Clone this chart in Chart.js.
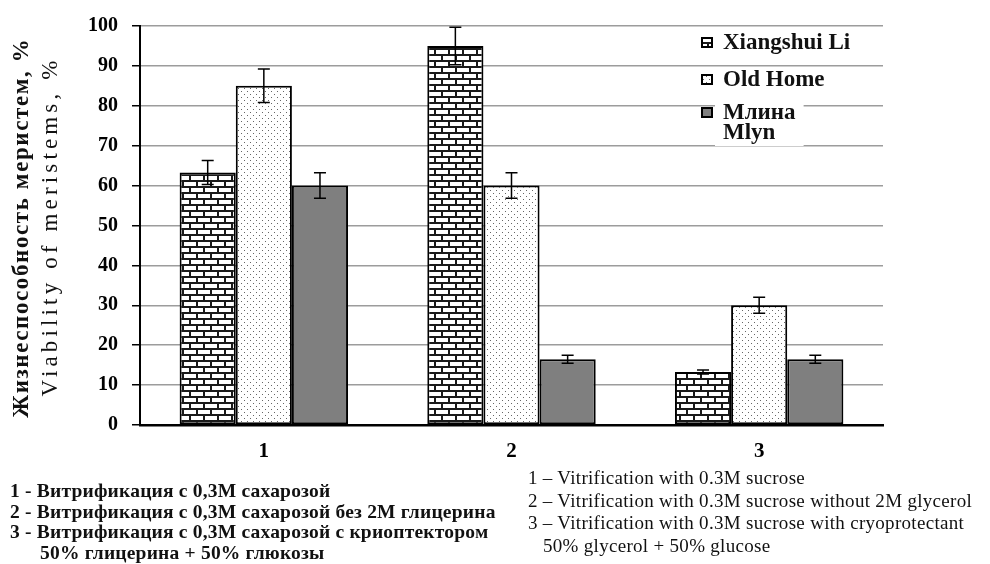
<!DOCTYPE html>
<html>
<head>
<meta charset="utf-8">
<script src="https://cdn.jsdelivr.net/npm/chart.js@4.4.1/dist/chart.umd.min.js"></script>
<style>
  html, body { margin: 0; padding: 0; background: #fff; }
  #wrap { position: relative; width: 990px; height: 564px; overflow: hidden; }
  canvas { position: absolute; left: 0; top: 0; }
  .notes { position: absolute; font-family: "Liberation Serif", "Times New Roman", serif; color: #111; white-space: nowrap; }
  .ru { left: 10px; top: 481px; font-size: 19.5px; font-weight: bold; line-height: 20.5px; letter-spacing: 0.2px; }
  .ru .indent { padding-left: 30px; }
  .en { left: 528px; top: 467px; font-size: 19px; line-height: 22.7px; letter-spacing: 0.3px; }
  .en .indent { padding-left: 15px; }
</style>
</head>
<body>
<div id="wrap">
  <canvas id="chart" width="990" height="564"></canvas>
  <div class="notes ru" id="notesRu"></div>
  <div class="notes en" id="notesEn"></div>
</div>
<script>
// categories = treatment number, see notes below the chart
const categories = ['1', '2', '3'];
const seriesLabels = ['Xiangshui Li', 'Old Home', 'Млина\nMlyn'];

// viability of meristems, %
const xiangshuiLi = [63.3, 95, 13.3];
const oldHome = [85, 60, 30];
const mlyn = [60, 16.5, 16.5];

// error bar half-widths
const errXiangshuiLi = [3, 4.7, 0.5];
const errOldHome = [4.2, 3.2, 2];
const errMlyn = [3.2, 1, 1];

const yTicks = [0, 10, 20, 30, 40, 50, 60, 70, 80, 90, 100];
const yTitleLines = ['Жизнеспособность меристем, %', 'Viability of meristems, %'];

const notesRu = [
    '1 - Витрификация с 0,3М сахарозой',
    '2 - Витрификация с 0,3М сахарозой без 2М глицерина',
    '3 - Витрификация с 0,3М сахарозой с криоптектором',
    '50% глицерина + 50% глюкозы',
];
const notesEn = [
    '1 – Vitrification with 0.3M sucrose',
    '2 – Vitrification with 0.3M sucrose without 2M glycerol',
    '3 – Vitrification with 0.3M sucrose with cryoprotectant',
    '50% glycerol + 50% glucose',
];

const SERIF = '"Liberation Serif", "Times New Roman", serif';

function fillNotes(id, lines) {
    const el = document.getElementById(id);
    lines.forEach((t, i) => {
        const d = document.createElement('div');
        d.textContent = t;
        // the last line continues item 3, so it is indented
        if (i === lines.length - 1) d.className = 'indent';
        el.appendChild(d);
    });
}
fillNotes('notesRu', notesRu);
fillNotes('notesEn', notesEn);

// --- fill patterns (brick / dots / plain gray) ---
function makePattern(w, h, draw) {
    const c = document.createElement('canvas');
    c.width = w;
    c.height = h;
    const g = c.getContext('2d');
    draw(g);
    return document.getElementById('chart').getContext('2d').createPattern(c, 'repeat');
}

const brick = makePattern(14, 12, (g) => {
    g.fillStyle = '#fff';
    g.fillRect(0, 0, 14, 12);
    g.fillStyle = '#1a1a1a';
    g.fillRect(0, 0, 14, 2);
    g.fillRect(0, 6, 14, 2);
    g.fillRect(0, 0, 2, 6);
    g.fillRect(7, 6, 2, 6);
});

const dots = makePattern(6, 6, (g) => {
    g.fillStyle = '#fff';
    g.fillRect(0, 0, 6, 6);
    g.fillStyle = '#666';
    g.fillRect(1, 1, 1, 1);
    g.fillRect(4, 4, 1, 1);
});

const gray = '#7f7f7f';

const errorBarPlugin = {
    id: 'errorBars',
    afterDatasetsDraw(chart) {
        const { ctx } = chart;
        const y = chart.scales.y;
        ctx.save();
        ctx.strokeStyle = '#000';
        ctx.lineWidth = 1.5;
        chart.data.datasets.forEach((ds, i) => {
            chart.getDatasetMeta(i).data.forEach((bar, j) => {
                const v = ds.data[j];
                const e = ds.errors[j];
                const top = y.getPixelForValue(v + e);
                const bot = y.getPixelForValue(v - e);
                ctx.beginPath();
                ctx.moveTo(bar.x, top);
                ctx.lineTo(bar.x, bot);
                ctx.moveTo(bar.x - 6, top);
                ctx.lineTo(bar.x + 6, top);
                ctx.moveTo(bar.x - 6, bot);
                ctx.lineTo(bar.x + 6, bot);
                ctx.stroke();
            });
        });
        ctx.restore();
    },
};

// legend sits inside the plot, top right; third entry is two lines on a white box
const legendRows = [43, 80, 113];
const legendPlugin = {
    id: 'insideLegend',
    afterDraw(chart) {
        const { ctx } = chart;
        ctx.save();
        ctx.font = `bold 23px ${SERIF}`;
        ctx.textBaseline = 'middle';
        chart.data.datasets.forEach((ds, i) => {
            const lines = ds.label.split('\n');
            const y = legendRows[i];
            const w = Math.max(...lines.map((l) => ctx.measureText(l).width));
            ctx.fillStyle = '#fff';
            ctx.fillRect(715, y - 12, w + 16, (lines.length - 1) * 20 + 25);

            ctx.fillStyle = ds.backgroundColor;
            ctx.fillRect(702, y - 5, 10, 9);
            ctx.strokeStyle = '#000';
            ctx.lineWidth = 2;
            ctx.strokeRect(702, y - 5, 10, 9);

            ctx.fillStyle = '#111';
            lines.forEach((l, k) => ctx.fillText(l, 723, y + k * 20));
        });
        ctx.restore();
    },
};

// rotated two-line y title, spread to the height it has in the original
const yTitlePlugin = {
    id: 'yTitle',
    afterDraw(chart) {
        const { ctx, chartArea } = chart;
        const midY = (chartArea.top + chartArea.bottom) / 2 + 3;
        const specs = [
            { font: `bold 23px ${SERIF}`, x: 22, len: 380 },
            { font: `23px ${SERIF}`, x: 51, len: 340 },
        ];
        ctx.save();
        yTitleLines.forEach((text, i) => {
            const s = specs[i];
            ctx.save();
            ctx.translate(s.x, midY);
            ctx.rotate(-Math.PI / 2);
            ctx.font = s.font;
            ctx.letterSpacing = '0px';
            const w = ctx.measureText(text).width;
            const sp = Math.max(0, (s.len - w) / text.length);
            ctx.letterSpacing = sp + 'px';
            ctx.fillStyle = '#111';
            ctx.textAlign = 'center';
            ctx.textBaseline = 'middle';
            ctx.fillText(text, sp / 2, 0);
            ctx.restore();
        });
        ctx.restore();
    },
};

new Chart(document.getElementById('chart'), {
    type: 'bar',
    data: {
        labels: categories,
        datasets: [
            { label: seriesLabels[0], data: xiangshuiLi, errors: errXiangshuiLi, backgroundColor: brick },
            { label: seriesLabels[1], data: oldHome, errors: errOldHome, backgroundColor: dots },
            { label: seriesLabels[2], data: mlyn, errors: errMlyn, backgroundColor: gray },
        ],
    },
    options: {
        responsive: false,
        animation: false,
        devicePixelRatio: 1,
        layout: { padding: { top: 23, right: 107, bottom: 0, left: 0 } },
        datasets: {
            bar: {
                categoryPercentage: 0.68,
                barPercentage: 1,
                borderColor: '#000',
                borderWidth: 2,
                borderSkipped: false,
            },
        },
        plugins: {
            legend: { display: false },
            tooltip: { enabled: false },
        },
        scales: {
            x: {
                grid: { display: false, drawTicks: false },
                border: { display: true, color: '#000', width: 2.5 },
                ticks: {
                    color: '#000',
                    padding: 14,
                    font: { family: SERIF, size: 21, weight: 'bold' },
                },
                afterFit(scale) { scale.height = 139; },
            },
            y: {
                min: 0,
                max: 100,
                afterBuildTicks(scale) { scale.ticks = yTicks.map((v) => ({ value: v })); },
                grid: {
                    color: (c) => (c.tick && c.tick.value === 0 ? 'rgba(0,0,0,0)' : '#9c9c9c'),
                    lineWidth: 1.5,
                    tickColor: '#000',
                    tickLength: 8,
                },
                border: { display: true, color: '#000', width: 2 },
                ticks: {
                    color: '#000',
                    padding: 14,
                    font: { family: SERIF, size: 20, weight: 'bold' },
                },
                afterFit(scale) { scale.width = 140; },
            },
        },
    },
    plugins: [errorBarPlugin, legendPlugin, yTitlePlugin],
});
</script>
</body>
</html>
